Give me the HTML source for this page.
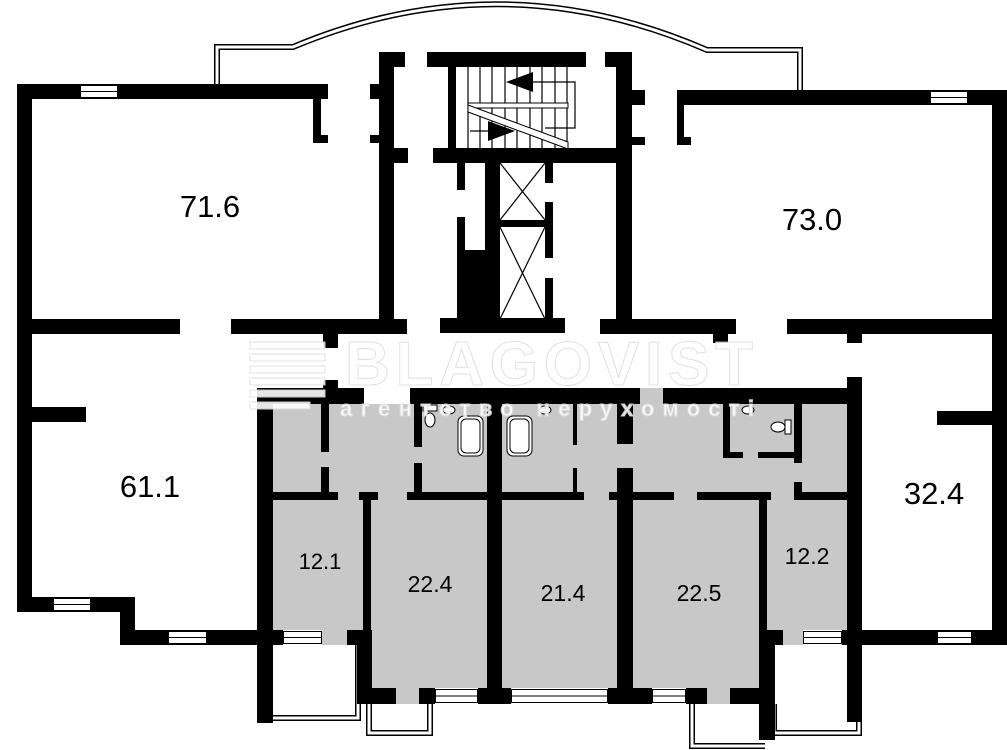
<!DOCTYPE html>
<html><head><meta charset="utf-8"><style>html,body{margin:0;padding:0;background:#fff}svg{display:block}</style></head>
<body>
<svg width="1007" height="750" viewBox="0 0 1007 750" xmlns="http://www.w3.org/2000/svg">
<rect width="1007" height="750" fill="#fff"/>
<g fill="#c8c8c8">
<rect x="273" y="404" width="574" height="226"/>
<rect x="371" y="500" width="388" height="188"/>
<rect x="396" y="688" width="23" height="16"/>
<rect x="707" y="688" width="23" height="16"/>
<rect x="322" y="630" width="25" height="15"/>
<rect x="783" y="630" width="20" height="15"/>
<rect x="640" y="388" width="23" height="16"/>
</g>
<g fill="none">
<path d="M217,84 V47 H293 Q500,-40 707,50 H800 V90" stroke="#000" stroke-width="6"/>
<path d="M217,84 V47 H293 Q500,-40 707,50 H800 V90" stroke="#fff" stroke-width="3"/>
<path d="M273,718 H358 V645" stroke="#000" stroke-width="6"/>
<path d="M273,718 H358 V645" stroke="#fff" stroke-width="3"/>
<path d="M369,704 V733 H430 V704" stroke="#000" stroke-width="6"/>
<path d="M369,704 V733 H430 V704" stroke="#fff" stroke-width="3"/>
<path d="M692,704 V746 H765" stroke="#000" stroke-width="6"/>
<path d="M692,704 V746 H765" stroke="#fff" stroke-width="3"/>
<path d="M774,704 V733 H859 V720" stroke="#000" stroke-width="6"/>
<path d="M774,704 V733 H859 V720" stroke="#fff" stroke-width="3"/>
</g>
<g fill="#000">
<rect x="17" y="84" width="311" height="15"/>
<rect x="17" y="84" width="15" height="528"/>
<rect x="313" y="84" width="8" height="59"/>
<rect x="313" y="135" width="15" height="8"/>
<rect x="370" y="84" width="9" height="15"/>
<rect x="370" y="135" width="9" height="8"/>
<rect x="379" y="52" width="15" height="282"/>
<rect x="379" y="52" width="26" height="15"/>
<rect x="379" y="148" width="29" height="15"/>
<rect x="32" y="319" width="148" height="15"/>
<rect x="231" y="319" width="176" height="15"/>
<rect x="323" y="334" width="15" height="14"/>
<rect x="427" y="52" width="159" height="15"/>
<rect x="448" y="67" width="8" height="81"/>
<rect x="433" y="148" width="199" height="15"/>
<rect x="616" y="52" width="16" height="282"/>
<rect x="605" y="52" width="27" height="15"/>
<rect x="632" y="90" width="13" height="15"/>
<rect x="632" y="137" width="13" height="8"/>
<rect x="457" y="163" width="8" height="27"/>
<rect x="457" y="217" width="8" height="33"/>
<rect x="457" y="250" width="43" height="69"/>
<rect x="485" y="163" width="15" height="156"/>
<rect x="500" y="220" width="45" height="7"/>
<rect x="545" y="163" width="8" height="20"/>
<rect x="545" y="202" width="8" height="56"/>
<rect x="545" y="278" width="8" height="41"/>
<rect x="440" y="318" width="125" height="15"/>
<rect x="600" y="319" width="136" height="15"/>
<rect x="713" y="334" width="15" height="9"/>
<rect x="787" y="319" width="220" height="15"/>
<rect x="847" y="334" width="15" height="9"/>
<rect x="677" y="90" width="330" height="15"/>
<rect x="992" y="90" width="15" height="555"/>
<rect x="677" y="105" width="7" height="40"/>
<rect x="677" y="137" width="14" height="8"/>
<rect x="32" y="407" width="54" height="15"/>
<rect x="17" y="597" width="118" height="15"/>
<rect x="120" y="597" width="15" height="48"/>
<rect x="120" y="630" width="152" height="15"/>
<rect x="257" y="388" width="16" height="335"/>
<rect x="257" y="388" width="107" height="16"/>
<rect x="323" y="380" width="15" height="24"/>
<rect x="410" y="388" width="230" height="16"/>
<rect x="663" y="388" width="184" height="16"/>
<rect x="847" y="377" width="15" height="345"/>
<rect x="321" y="404" width="8" height="48"/>
<rect x="321" y="467" width="8" height="25"/>
<rect x="273" y="492" width="65" height="8"/>
<rect x="359" y="492" width="19" height="8"/>
<rect x="407" y="492" width="177" height="8"/>
<rect x="609" y="492" width="65" height="8"/>
<rect x="697" y="492" width="74" height="8"/>
<rect x="794" y="492" width="53" height="8"/>
<rect x="363" y="492" width="8" height="138"/>
<rect x="357" y="630" width="15" height="74"/>
<rect x="414" y="404" width="8" height="43"/>
<rect x="414" y="463" width="8" height="29"/>
<rect x="487" y="404" width="15" height="300"/>
<rect x="573" y="404" width="4" height="41"/>
<rect x="573" y="468" width="4" height="24"/>
<rect x="617" y="404" width="16" height="40"/>
<rect x="617" y="468" width="16" height="236"/>
<rect x="723" y="404" width="7" height="54"/>
<rect x="723" y="452" width="20" height="6"/>
<rect x="758" y="452" width="44" height="6"/>
<rect x="794" y="404" width="8" height="59"/>
<rect x="794" y="482" width="8" height="18"/>
<rect x="759" y="500" width="8" height="130"/>
<rect x="759" y="630" width="16" height="110"/>
<rect x="257" y="630" width="26" height="15"/>
<rect x="347" y="630" width="25" height="15"/>
<rect x="357" y="688" width="39" height="16"/>
<rect x="419" y="688" width="16" height="16"/>
<rect x="478" y="688" width="33" height="16"/>
<rect x="608" y="688" width="44" height="16"/>
<rect x="686" y="688" width="21" height="16"/>
<rect x="730" y="688" width="45" height="16"/>
<rect x="759" y="630" width="24" height="15"/>
<rect x="842" y="630" width="150" height="15"/>
<rect x="937" y="411" width="55" height="14"/>
</g>
<g fill="#fff" stroke="#000" stroke-width="1">
<rect x="80.5" y="85.5" width="37" height="12"/><line x1="80" y1="91.5" x2="118" y2="91.5"/>
<rect x="930.5" y="91.5" width="37" height="12"/><line x1="930" y1="97.5" x2="968" y2="97.5"/>
<rect x="53.5" y="598.5" width="37" height="12"/><line x1="53" y1="604.5" x2="91" y2="604.5"/>
<rect x="168.5" y="631.5" width="38" height="12"/><line x1="168" y1="637.5" x2="207" y2="637.5"/>
<rect x="283.5" y="631.5" width="38" height="12"/><line x1="283" y1="637.5" x2="322" y2="637.5"/>
<rect x="435.5" y="689.5" width="42" height="13"/><line x1="435" y1="696" x2="478" y2="696"/>
<rect x="511.5" y="689.5" width="96" height="13"/><line x1="511" y1="696" x2="608" y2="696"/>
<rect x="652.5" y="689.5" width="33" height="13"/><line x1="652" y1="696" x2="686" y2="696"/>
<rect x="803.5" y="631.5" width="38" height="12"/><line x1="803" y1="637.5" x2="842" y2="637.5"/>
<rect x="937.5" y="631.5" width="34" height="12"/><line x1="937" y1="637.5" x2="972" y2="637.5"/>
</g>
<g stroke="#000" stroke-width="1.2" fill="none">
<line x1="468" y1="67" x2="468" y2="148"/><line x1="480" y1="67" x2="480" y2="148"/><line x1="492" y1="67" x2="492" y2="148"/><line x1="505" y1="67" x2="505" y2="148"/><line x1="517" y1="67" x2="517" y2="148"/><line x1="530" y1="67" x2="530" y2="148"/><line x1="542" y1="67" x2="542" y2="148"/><line x1="555" y1="67" x2="555" y2="148"/><line x1="567" y1="67" x2="567" y2="148"/>
<polyline points="533,82 575,82 575,128 545,128"/>
<line x1="470" y1="131" x2="495" y2="131"/>
<line x1="500" y1="163" x2="545" y2="220"/><line x1="545" y1="163" x2="500" y2="220"/>
<line x1="500" y1="227" x2="545" y2="319"/><line x1="545" y1="227" x2="500" y2="319"/>
</g>
<rect x="468" y="103" width="100" height="5" fill="#fff" stroke="#000" stroke-width="1"/>
<polygon points="468,105 468,112 568,149 568,142" fill="#fff" stroke="#000" stroke-width="1"/>
<polygon points="506,82 533,72 533,92" fill="#000"/>
<polygon points="515,131 488,121 488,141" fill="#000"/>
<g fill="#fff" stroke="#000" stroke-width="1">
<rect x="458" y="416" width="25" height="40" rx="6"/><rect x="461" y="419" width="19" height="34" rx="5"/>
<rect x="507" y="416" width="25" height="40" rx="6"/><rect x="510" y="419" width="19" height="34" rx="5"/>
<rect x="423" y="405" width="14" height="6"/><ellipse cx="430" cy="420" rx="5" ry="7"/>
<ellipse cx="449" cy="410" rx="6" ry="4"/><ellipse cx="545" cy="410" rx="6" ry="4"/><ellipse cx="748" cy="410" rx="6" ry="4"/>
<rect x="785" y="420" width="6" height="14"/><ellipse cx="778" cy="427" rx="7" ry="5"/>
</g>
<g font-family="Liberation Sans, sans-serif" font-weight="bold" fill="#fff" stroke="#ddd" stroke-width="1" opacity="0.9">
<text x="345" y="385" font-size="62" letter-spacing="2" textLength="410">BLAGOVIST</text>
<text x="340" y="416" font-size="22" letter-spacing="1" textLength="415">агентство нерухомості</text>
<rect x="250" y="342" width="75" height="7"/><rect x="250" y="354" width="75" height="7"/><rect x="250" y="366" width="75" height="7"/><rect x="250" y="378" width="75" height="7"/><rect x="250" y="390" width="75" height="7"/><rect x="250" y="402" width="60" height="7"/>
</g>
<g font-family="Liberation Sans, sans-serif" fill="#000" text-anchor="middle">
<text x="210" y="217" font-size="31">71.6</text>
<text x="812" y="230" font-size="31">73.0</text>
<text x="150" y="497" font-size="31">61.1</text>
<text x="934" y="504" font-size="31">32.4</text>
<text x="320" y="569" font-size="22">12.1</text>
<text x="430" y="592" font-size="23">22.4</text>
<text x="563" y="601" font-size="23">21.4</text>
<text x="699" y="601" font-size="23">22.5</text>
<text x="807" y="564" font-size="23">12.2</text>
</g>
</svg>
</body></html>
